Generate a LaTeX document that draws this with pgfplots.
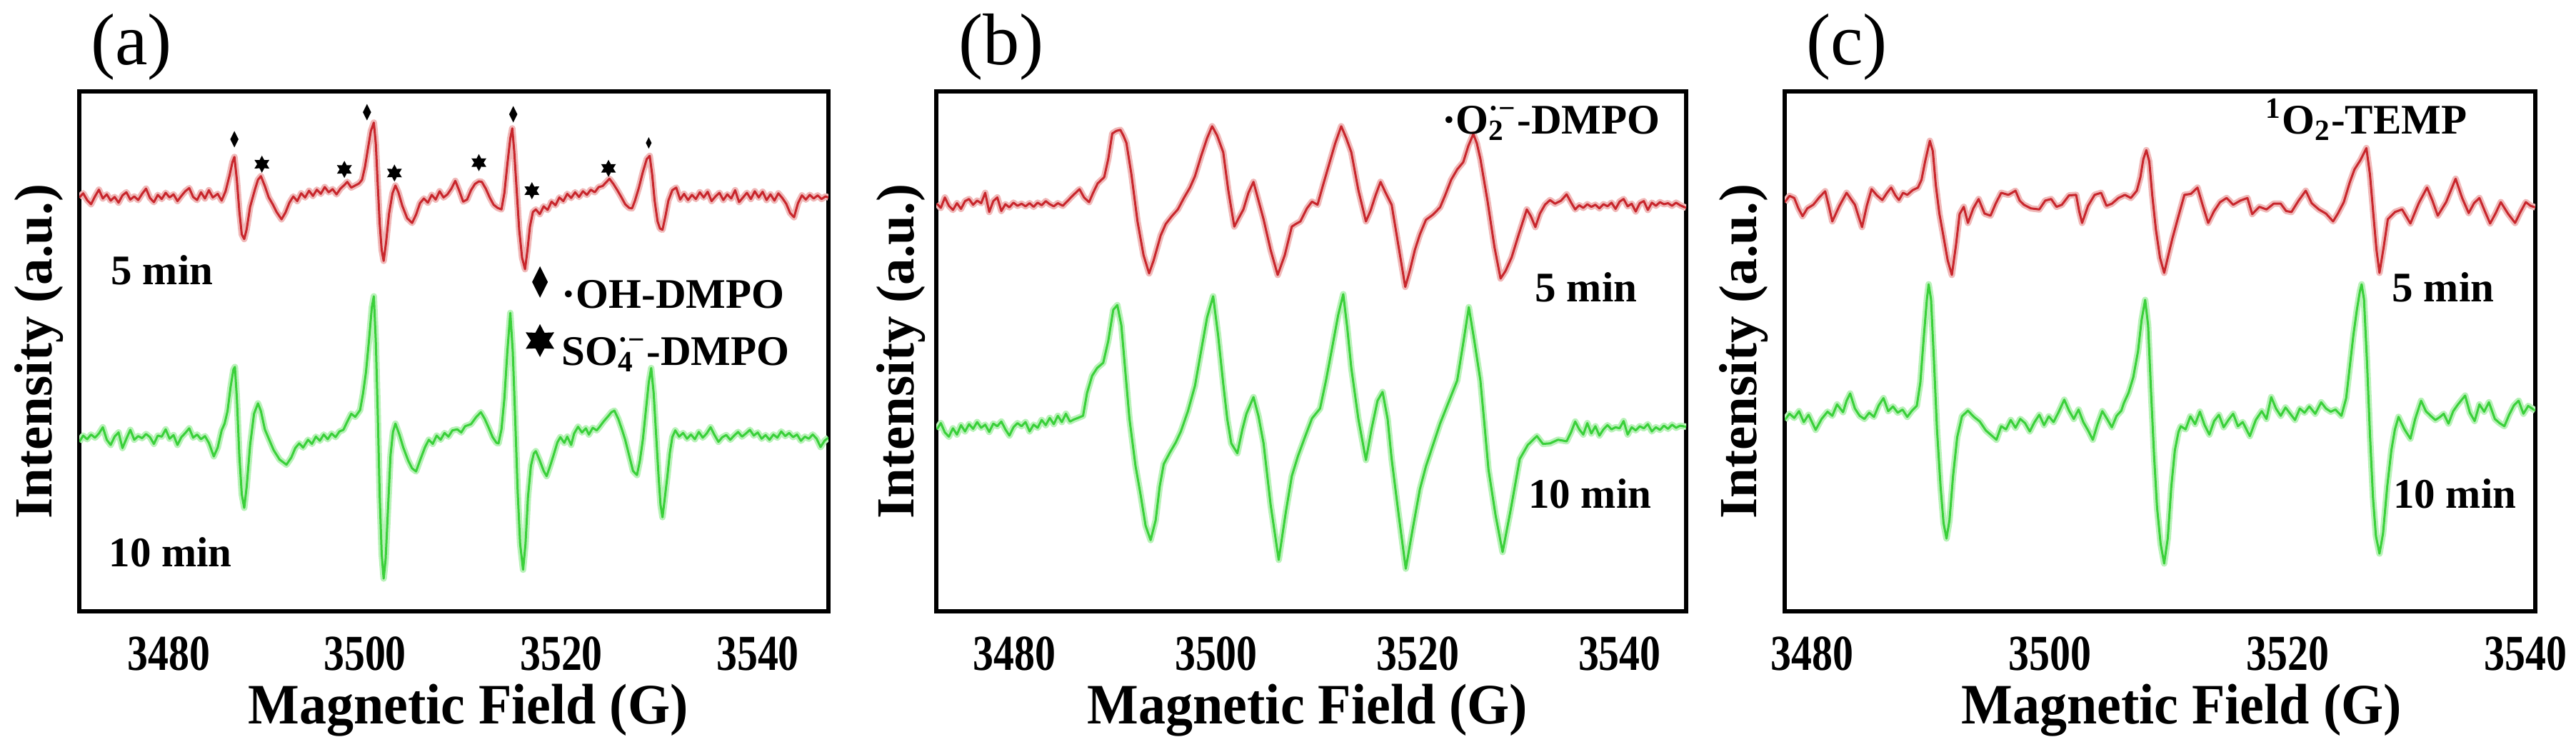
\documentclass[border=0pt]{standalone}
\usepackage{pgfplots}
\pgfplotsset{compat=1.18}
\usepackage{pgfplotstable}
\usepackage{fontspec}
\setmainfont{Liberation Serif}
\newfontfamily\tickserif{Liberation Serif}[FakeStretch=0.82]
\newfontfamily\labserif{Liberation Serif}[FakeStretch=0.95]

\definecolor{eprred}{RGB}{200,38,44}
\definecolor{eprredglow}{RGB}{240,185,185}
\definecolor{eprgreen}{RGB}{58,208,58}
\definecolor{eprgreenglow}{RGB}{185,242,185}

\newcommand\annfont{\bfseries\fontsize{11.8}{12}\selectfont}

% slim filled diamond for the .OH adduct peaks
\pgfdeclareplotmark{slimdiamond}{%
  \pgfpathmoveto{\pgfqpoint{0pt}{\pgfplotmarksize}}%
  \pgfpathlineto{\pgfqpoint{0.5\pgfplotmarksize}{0pt}}%
  \pgfpathlineto{\pgfqpoint{0pt}{-\pgfplotmarksize}}%
  \pgfpathlineto{\pgfqpoint{-0.5\pgfplotmarksize}{0pt}}%
  \pgfpathclose
  \pgfusepathqfill}
% filled six-pointed star for the sulfate adduct peaks
\pgfdeclareplotmark{sixstar}{%
  \pgfpathmoveto{\pgfpointpolar{90}{\pgfplotmarksize}}%
  \pgfpathlineto{\pgfpointpolar{120}{0.55\pgfplotmarksize}}%
  \pgfpathlineto{\pgfpointpolar{150}{\pgfplotmarksize}}%
  \pgfpathlineto{\pgfpointpolar{180}{0.55\pgfplotmarksize}}%
  \pgfpathlineto{\pgfpointpolar{210}{\pgfplotmarksize}}%
  \pgfpathlineto{\pgfpointpolar{240}{0.55\pgfplotmarksize}}%
  \pgfpathlineto{\pgfpointpolar{270}{\pgfplotmarksize}}%
  \pgfpathlineto{\pgfpointpolar{300}{0.55\pgfplotmarksize}}%
  \pgfpathlineto{\pgfpointpolar{330}{\pgfplotmarksize}}%
  \pgfpathlineto{\pgfpointpolar{0}{0.55\pgfplotmarksize}}%
  \pgfpathlineto{\pgfpointpolar{30}{\pgfplotmarksize}}%
  \pgfpathlineto{\pgfpointpolar{60}{0.55\pgfplotmarksize}}%
  \pgfpathclose
  \pgfusepathqfill}

% ---------- (a) DMPO, OH / SO4 adducts ----------
\pgfplotstableread{
x y
3470.9 79.6
3471.3 80.4
3471.7 79.1
3472.1 78.3
3472.5 79.8
3472.9 81.1
3473.3 79.4
3473.7 80.2
3474.1 79.0
3474.5 79.7
3474.9 78.6
3475.3 80.0
3475.7 80.6
3476.1 79.2
3476.5 79.8
3476.9 79.1
3477.3 80.3
3477.7 81.3
3478.1 79.5
3478.5 78.7
3478.9 80.1
3479.3 79.3
3479.7 80.5
3480.1 79.6
3480.5 80.2
3480.9 78.9
3481.3 79.9
3481.7 80.8
3482.1 81.4
3482.5 79.7
3482.9 79.1
3483.3 80.6
3483.7 79.4
3484.1 81.0
3484.5 79.6
3485.0 80.3
3485.4 79.0
3485.8 80.8
3486.2 83.8
3486.5 86.4
3486.7 87.4
3486.95 83.0
3487.2 77.0
3487.45 72.5
3487.7 71.6
3487.95 73.5
3488.3 77.8
3488.8 81.2
3489.1 83.0
3489.4 83.7
3489.8 81.8
3490.2 79.6
3490.6 78.3
3491.0 76.8
3491.5 75.4
3491.9 76.7
3492.3 78.6
3492.7 79.8
3493.1 78.9
3493.5 80.4
3493.9 79.6
3494.3 80.9
3494.7 79.9
3495.1 81.1
3495.5 80.3
3495.9 81.6
3496.3 80.6
3496.7 81.2
3497.1 80.2
3497.5 81.3
3497.9 82.0
3498.2 82.6
3498.6 81.5
3499.0 81.9
3499.4 82.3
3499.7 83.0
3500.0 85.5
3500.3 89.0
3500.6 92.4
3500.9 94.0
3501.1 90.0
3501.3 82.0
3501.5 74.5
3501.7 69.5
3501.9 67.4
3502.15 71.0
3502.45 76.5
3502.8 80.4
3503.1 81.9
3503.4 80.6
3503.8 78.0
3504.3 75.6
3504.8 74.7
3505.2 76.3
3505.6 78.5
3506.0 79.4
3506.4 78.6
3506.8 80.1
3507.2 79.2
3507.6 80.8
3508.0 79.6
3508.4 80.2
3508.8 81.3
3509.2 82.8
3509.6 80.9
3510.0 78.8
3510.4 79.2
3510.8 81.0
3511.2 82.2
3511.6 82.7
3511.9 82.6
3512.3 81.3
3512.7 79.6
3513.1 78.2
3513.5 77.6
3513.9 77.3
3514.2 80.5
3514.5 86.0
3514.8 91.0
3515.0 92.9
3515.2 88.5
3515.45 81.0
3515.7 73.5
3516.0 68.0
3516.3 65.8
3516.55 69.5
3516.8 74.0
3517.1 76.8
3517.4 77.3
3517.8 76.4
3518.2 77.9
3518.6 77.2
3519.0 78.8
3519.4 78.1
3519.8 79.6
3520.2 78.9
3520.6 80.3
3521.0 79.5
3521.4 80.6
3521.8 79.7
3522.2 80.8
3522.6 80.1
3523.0 81.1
3523.4 80.6
3523.8 81.6
3524.2 81.8
3524.6 82.6
3524.9 83.2
3525.3 82.2
3525.7 81.0
3526.1 79.7
3526.5 78.3
3526.9 77.6
3527.2 77.5
3527.5 79.0
3527.9 81.5
3528.3 84.5
3528.7 87.0
3529.0 87.6
3529.25 84.0
3529.5 79.0
3529.8 75.0
3530.05 73.6
3530.3 73.4
3530.6 76.0
3530.9 79.0
3531.3 81.0
3531.7 81.5
3532.1 79.2
3532.5 80.3
3532.9 79.1
3533.3 80.1
3533.7 79.3
3534.1 80.6
3534.5 79.6
3534.9 80.7
3535.3 78.9
3535.7 79.8
3536.1 80.5
3536.5 79.1
3536.9 80.2
3537.3 79.4
3537.7 81.0
3538.1 78.7
3538.5 79.6
3538.9 80.5
3539.3 79.3
3539.7 80.8
3540.1 79.6
3540.5 80.7
3540.9 79.1
3541.3 80.2
3541.7 79.0
3542.1 80.4
3542.5 79.5
3542.9 78.4
3543.3 76.6
3543.7 75.8
3544.1 78.5
3544.5 80.0
3544.9 79.2
3545.3 80.1
3545.7 79.4
3546.1 80.0
3546.5 79.3
3546.9 79.8
3547.2 79.6
}\redA

\pgfplotstableread{
x y
3470.9 32.6
3471.3 33.8
3471.7 33.1
3472.1 34.0
3472.5 33.4
3472.9 34.2
3473.3 35.4
3473.7 33.0
3474.1 32.0
3474.5 33.6
3474.9 34.4
3475.3 31.4
3475.7 33.2
3476.1 34.9
3476.5 33.0
3476.9 33.7
3477.3 33.3
3477.7 34.1
3478.1 33.5
3478.5 32.2
3478.9 33.8
3479.3 33.6
3479.7 35.0
3480.1 33.2
3480.5 33.9
3480.9 32.0
3481.3 33.5
3481.7 34.3
3482.1 35.2
3482.5 33.4
3482.9 34.0
3483.3 33.1
3483.7 33.7
3484.1 32.4
3484.6 29.8
3485.0 31.5
3485.4 34.8
3485.7 36.1
3486.0 38.5
3486.3 43.0
3486.6 46.5
3486.75 47.0
3486.95 41.0
3487.2 30.0
3487.45 22.5
3487.7 19.9
3487.95 24.0
3488.3 32.0
3488.7 38.0
3489.1 40.0
3489.4 38.5
3489.8 35.0
3490.2 33.2
3490.7 31.0
3491.3 29.2
3492.0 28.2
3492.5 29.6
3492.9 31.4
3493.3 32.3
3493.7 31.5
3494.2 33.0
3494.6 32.2
3495.0 33.6
3495.4 32.8
3495.8 34.0
3496.2 33.1
3496.6 34.2
3497.0 33.5
3497.4 34.6
3497.8 34.9
3498.2 36.5
3498.6 38.0
3499.0 37.4
3499.5 38.7
3499.8 41.9
3500.1 46.0
3500.4 52.0
3500.7 58.5
3500.9 60.6
3501.1 52.0
3501.3 38.0
3501.5 22.0
3501.7 11.0
3501.9 6.3
3502.1 10.0
3502.35 20.0
3502.6 30.0
3502.85 34.5
3503.1 36.1
3503.5 34.0
3503.9 31.5
3504.4 29.0
3504.8 27.5
3505.2 26.9
3505.6 29.0
3506.1 31.5
3506.5 33.0
3506.9 32.2
3507.3 33.8
3507.7 33.0
3508.1 34.3
3508.5 33.6
3508.9 34.8
3509.4 35.0
3509.8 34.4
3510.2 35.6
3510.8 36.0
3511.3 37.3
3511.8 38.3
3512.2 37.0
3512.6 35.3
3513.0 33.5
3513.4 32.4
3513.6 32.3
3513.9 35.0
3514.2 41.0
3514.5 50.0
3514.8 57.4
3515.05 50.0
3515.3 37.0
3515.55 23.0
3515.8 13.0
3516.1 8.0
3516.35 13.0
3516.6 22.0
3516.9 28.0
3517.2 30.4
3517.4 30.8
3517.8 29.0
3518.2 27.0
3518.5 26.0
3518.9 28.2
3519.2 30.0
3519.6 32.5
3519.9 33.5
3520.3 32.4
3520.6 33.6
3521.0 32.0
3521.3 34.2
3521.7 35.5
3522.1 34.4
3522.5 35.2
3522.8 34.0
3523.2 35.3
3523.6 34.8
3523.9 35.5
3524.3 36.5
3524.8 37.6
3525.1 38.3
3525.4 38.6
3525.8 37.0
3526.2 34.8
3526.5 33.0
3526.9 30.0
3527.3 27.0
3527.7 26.2
3528.0 29.0
3528.3 33.0
3528.6 38.5
3528.9 44.0
3529.15 46.8
3529.4 42.0
3529.65 34.0
3529.9 26.0
3530.1 20.5
3530.3 18.1
3530.55 22.0
3530.8 26.0
3531.05 30.5
3531.3 33.5
3531.6 34.8
3532.0 33.6
3532.4 34.3
3532.8 33.2
3533.2 34.0
3533.6 33.1
3534.0 34.5
3534.4 33.4
3534.8 34.2
3535.2 35.4
3535.6 33.9
3536.0 32.6
3536.4 33.5
3536.8 33.9
3537.2 33.0
3537.6 33.8
3538.0 34.5
3538.4 33.6
3538.8 34.2
3539.2 34.9
3539.6 33.8
3540.0 34.4
3540.4 33.2
3540.8 33.9
3541.2 33.0
3541.6 34.0
3542.0 33.4
3542.4 34.6
3542.8 33.7
3543.2 34.3
3543.6 33.5
3544.0 34.0
3544.4 32.8
3544.8 33.6
3545.2 33.2
3545.6 34.0
3546.0 33.2
3546.4 31.6
3546.8 32.8
3547.2 33.4
}\greenA

% ---------- (b) DMPO, superoxide adduct ----------
\pgfplotstableread{
x y
3472.3 78.4
3472.7 77.6
3473.1 79.6
3473.5 78.0
3473.9 77.2
3474.3 78.5
3474.7 77.4
3475.1 78.9
3475.5 79.3
3475.9 78.2
3476.3 79.0
3476.7 78.5
3477.1 80.5
3477.5 76.8
3477.9 78.9
3478.3 79.6
3478.7 77.0
3479.1 78.3
3479.5 77.7
3479.9 78.6
3480.3 78.0
3480.7 78.4
3481.1 77.9
3481.5 78.5
3481.9 77.8
3482.3 78.6
3482.7 78.1
3483.1 78.9
3483.5 78.3
3483.9 77.9
3484.3 78.5
3484.8 78.0
3485.3 79.0
3485.8 80.0
3486.45 81.2
3486.9 79.6
3487.4 78.7
3487.8 80.5
3488.25 82.3
3488.9 83.5
3489.3 87.0
3489.7 91.9
3490.1 92.4
3490.5 92.6
3490.8 91.5
3491.1 90.1
3491.6 84.0
3492.2 75.0
3492.8 68.5
3493.35 65.0
3493.8 67.5
3494.5 72.3
3495.0 74.5
3495.6 76.0
3496.2 77.3
3496.8 79.5
3497.4 81.5
3497.9 83.7
3498.5 87.5
3499.1 91.0
3499.6 93.3
3500.1 91.5
3500.7 88.3
3501.2 81.0
3501.8 74.0
3502.2 75.5
3502.7 77.3
3503.2 80.5
3503.7 82.6
3504.2 79.0
3504.7 75.4
3505.4 69.5
3506.1 64.7
3506.8 68.5
3507.5 74.0
3507.9 74.5
3508.35 75.0
3509.0 77.5
3509.5 78.8
3510.05 78.2
3510.6 82.0
3511.2 86.0
3511.8 90.0
3512.4 93.3
3512.9 91.0
3513.4 88.3
3514.1 81.0
3514.85 75.0
3515.3 77.0
3515.8 80.0
3516.3 82.6
3516.8 80.5
3517.4 78.2
3518.1 70.0
3518.75 62.4
3519.2 65.5
3519.7 69.5
3520.2 72.5
3520.8 75.3
3521.5 76.3
3522.2 77.7
3522.7 80.0
3523.3 83.0
3523.9 85.0
3524.5 86.4
3525.0 89.5
3525.5 91.8
3525.85 90.0
3526.2 87.0
3526.9 79.0
3527.6 70.0
3528.2 64.0
3528.7 65.5
3529.3 68.1
3530.0 72.5
3530.8 77.3
3531.2 76.0
3531.65 73.9
3532.1 76.5
3532.6 78.2
3533.1 79.1
3533.6 78.4
3534.2 79.0
3534.75 80.2
3535.2 78.6
3535.6 77.3
3536.0 78.1
3536.4 77.6
3536.8 78.3
3537.2 77.8
3537.6 78.2
3538.0 77.5
3538.4 78.3
3538.8 77.9
3539.2 78.6
3539.6 77.4
3540.0 78.8
3540.4 79.3
3540.8 77.9
3541.2 78.4
3541.6 76.9
3542.0 78.5
3542.4 78.9
3542.8 77.2
3543.2 78.6
3543.6 78.0
3544.0 78.7
3544.4 78.3
3544.8 78.5
3545.2 78.0
3545.6 78.6
3546.0 78.1
3546.6 77.6
}\redB

\pgfplotstableread{
x y
3472.3 35.0
3472.7 36.2
3473.1 34.4
3473.5 33.6
3473.9 35.2
3474.3 34.0
3474.7 35.8
3475.1 34.6
3475.5 36.0
3475.9 35.1
3476.3 36.4
3476.7 35.3
3477.1 35.9
3477.5 34.5
3477.9 36.1
3478.3 35.6
3478.7 36.5
3479.1 35.0
3479.5 33.8
3479.9 35.4
3480.3 36.2
3480.7 35.6
3481.1 36.4
3481.5 34.6
3481.9 35.9
3482.3 35.3
3482.7 36.8
3483.1 35.8
3483.5 37.2
3483.9 36.0
3484.3 37.6
3484.7 36.4
3485.1 38.0
3485.5 36.5
3485.9 36.9
3486.3 37.2
3486.8 37.6
3487.2 42.0
3487.7 45.3
3488.2 46.8
3488.8 47.8
3489.3 52.0
3489.8 58.0
3490.2 58.9
3490.6 55.0
3491.0 46.0
3491.4 37.1
3492.0 28.0
3492.5 22.5
3493.0 16.5
3493.5 13.7
3494.0 17.5
3494.4 24.0
3494.8 28.3
3495.4 30.5
3496.0 32.5
3496.5 34.6
3497.2 38.5
3497.9 43.4
3498.5 50.0
3499.1 56.5
3499.7 60.6
3500.2 53.0
3500.7 43.8
3501.1 37.0
3501.5 32.3
3502.1 30.4
3502.6 35.0
3503.0 38.0
3503.7 41.2
3504.2 37.5
3504.7 32.3
3505.4 20.5
3506.2 9.9
3506.9 19.0
3507.5 26.0
3508.1 29.8
3508.8 33.5
3509.5 37.1
3510.3 39.0
3510.9 44.5
3511.5 50.7
3512.1 57.0
3512.6 61.0
3513.0 54.5
3513.4 46.8
3514.1 37.0
3514.85 29.1
3515.4 35.0
3516.0 40.5
3516.5 42.2
3517.0 37.0
3517.4 29.3
3518.1 18.5
3518.8 8.2
3519.5 16.0
3520.2 23.5
3520.8 27.9
3521.5 32.0
3522.2 36.1
3523.0 40.0
3523.9 44.4
3524.5 51.6
3525.05 58.5
3525.6 52.0
3526.2 44.4
3526.6 36.0
3527.0 27.3
3527.7 18.5
3528.4 11.4
3529.2 19.5
3530.1 29.3
3530.9 32.0
3531.8 33.7
3532.4 32.2
3533.1 32.3
3533.9 33.0
3534.75 32.7
3535.2 34.5
3535.6 36.5
3536.0 35.0
3536.4 34.0
3536.8 36.2
3537.2 34.2
3537.6 35.6
3538.0 33.8
3538.4 35.0
3538.8 35.8
3539.2 35.0
3539.6 35.4
3540.0 35.2
3540.4 36.6
3540.8 34.0
3541.2 35.4
3541.6 34.8
3542.0 35.6
3542.4 35.2
3542.8 36.0
3543.2 34.6
3543.6 35.4
3544.0 34.9
3544.4 35.7
3544.8 35.1
3545.2 35.9
3545.6 35.3
3546.0 35.7
3546.6 35.5
}\greenB

% ---------- (c) TEMP, singlet oxygen adduct ----------
\pgfplotstableread{
x y
3477.7 78.7
3478.1 79.9
3478.5 79.5
3478.85 77.5
3479.2 76.0
3479.6 77.5
3480.1 78.2
3480.6 79.6
3481.1 80.8
3481.4 78.0
3481.7 75.0
3482.3 78.0
3482.9 80.5
3483.2 79.5
3483.6 78.2
3483.9 76.0
3484.2 73.9
3484.6 78.0
3485.0 81.2
3485.45 80.0
3485.9 79.1
3486.3 80.5
3486.65 81.5
3487.0 80.0
3487.3 79.1
3487.65 80.5
3488.0 80.1
3488.45 81.0
3488.9 81.5
3489.2 83.0
3489.5 86.5
3489.9 90.5
3490.15 88.5
3490.4 82.0
3490.7 76.5
3491.0 72.7
3491.4 67.5
3491.75 64.7
3492.1 70.5
3492.4 76.4
3492.75 77.8
3493.1 74.7
3493.55 77.5
3494.0 79.3
3494.5 76.5
3495.0 76.1
3495.45 78.5
3495.9 80.5
3496.5 80.1
3497.1 80.9
3497.45 79.0
3497.8 78.2
3498.4 77.5
3499.1 77.3
3499.6 79.0
3500.1 79.3
3500.55 77.8
3501.0 78.2
3501.6 80.0
3502.2 80.1
3502.45 77.0
3502.7 74.7
3503.2 78.0
3503.75 80.1
3504.3 80.5
3504.75 78.0
3505.2 78.4
3505.75 79.5
3506.3 80.1
3506.8 79.5
3507.3 80.9
3507.6 83.5
3507.85 87.0
3508.1 88.7
3508.35 86.5
3508.6 80.0
3508.9 73.5
3509.25 68.0
3509.6 65.1
3509.95 68.5
3510.3 71.8
3510.8 76.0
3511.3 80.1
3511.85 80.3
3512.4 81.5
3512.85 78.0
3513.3 74.7
3513.8 77.0
3514.3 78.7
3514.85 79.5
3515.4 78.2
3516.0 79.0
3516.6 79.5
3517.0 76.4
3517.6 77.8
3518.2 77.3
3518.8 78.4
3519.4 78.4
3519.85 77.0
3520.3 76.8
3520.9 79.0
3521.5 80.9
3522.0 78.5
3522.6 77.3
3523.2 76.5
3523.8 75.0
3524.2 76.5
3524.7 78.7
3525.2 82.5
3525.6 85.0
3526.1 86.8
3526.6 89.1
3526.9 84.0
3527.2 76.0
3527.45 69.5
3527.7 65.1
3528.05 70.0
3528.4 75.4
3529.0 76.8
3529.6 77.3
3530.3 74.6
3531.0 78.5
3531.7 81.5
3532.15 79.0
3532.6 76.1
3533.3 78.7
3534.1 83.2
3534.65 79.5
3535.2 76.6
3535.65 78.5
3536.1 79.5
3536.55 77.0
3537.0 74.6
3537.45 76.5
3537.9 78.7
3538.5 76.5
3539.1 74.7
3539.55 76.8
3540.0 78.7
3540.4 78.0
3540.8 77.7
}\redC

\pgfplotstableread{
x y
3477.7 36.8
3478.1 38.0
3478.5 37.2
3478.9 38.5
3479.3 36.4
3479.7 37.8
3480.3 34.9
3480.8 37.0
3481.3 38.4
3481.7 37.6
3482.1 39.8
3482.6 38.3
3482.9 40.5
3483.2 41.9
3483.6 39.0
3484.0 37.6
3484.4 37.0
3484.8 38.2
3485.2 37.4
3485.6 39.6
3486.0 41.0
3486.4 38.5
3486.8 39.4
3487.2 38.2
3487.6 38.8
3488.0 37.4
3488.4 38.6
3488.8 39.5
3489.1 44.0
3489.4 53.0
3489.65 60.0
3489.8 62.9
3490.0 60.0
3490.25 48.0
3490.5 35.0
3490.8 24.0
3491.05 17.0
3491.3 14.0
3491.55 17.5
3491.85 26.0
3492.2 33.5
3492.6 37.5
3493.1 38.6
3493.6 37.4
3494.1 36.5
3494.6 34.8
3495.0 34.0
3495.5 33.0
3495.9 35.6
3496.3 35.0
3496.7 36.8
3497.1 35.3
3497.5 37.0
3497.9 36.2
3498.3 34.6
3498.7 36.4
3499.1 37.8
3499.5 35.8
3499.9 37.5
3500.3 36.4
3500.7 38.2
3501.2 40.7
3501.6 38.6
3502.0 37.0
3502.4 38.8
3502.8 36.4
3503.2 34.8
3503.6 33.0
3504.0 36.0
3504.4 38.5
3504.8 37.0
3505.2 35.4
3505.6 37.6
3506.0 38.6
3506.2 40.0
3506.6 42.0
3507.0 45.0
3507.4 50.0
3507.7 56.0
3508.0 59.9
3508.25 55.0
3508.5 42.0
3508.75 30.0
3509.0 20.0
3509.3 13.0
3509.6 9.2
3509.9 14.0
3510.2 24.0
3510.5 31.0
3510.8 34.5
3511.0 35.6
3511.4 35.0
3511.8 37.5
3512.2 36.0
3512.6 38.4
3513.0 35.8
3513.4 34.0
3513.8 36.6
3514.2 37.8
3514.6 35.4
3515.0 36.8
3515.4 38.0
3515.8 35.6
3516.2 36.4
3516.8 33.7
3517.3 36.8
3517.8 38.5
3518.2 37.0
3518.6 41.2
3519.0 39.0
3519.4 37.6
3519.8 39.2
3520.2 38.0
3520.6 36.8
3521.0 39.0
3521.4 38.2
3521.8 39.4
3522.3 38.0
3522.8 40.2
3523.2 39.0
3523.6 38.4
3524.0 38.8
3524.5 37.6
3524.9 41.0
3525.2 47.0
3525.5 53.0
3525.8 58.0
3526.05 61.5
3526.2 62.9
3526.4 60.0
3526.65 48.0
3526.9 34.0
3527.15 22.0
3527.4 14.5
3527.7 11.1
3528.0 15.0
3528.35 24.0
3528.7 31.0
3529.0 35.0
3529.3 37.4
3529.8 35.0
3530.3 33.2
3530.7 37.0
3531.2 40.5
3531.6 38.5
3532.0 37.6
3532.4 36.8
3532.8 37.4
3533.1 38.0
3533.5 36.1
3533.9 38.5
3534.3 39.8
3534.9 41.5
3535.3 38.2
3535.7 36.6
3536.1 39.8
3536.5 38.4
3536.9 40.2
3537.4 37.0
3537.8 36.2
3538.2 35.6
3538.6 37.8
3539.0 39.6
3539.4 40.5
3539.8 38.0
3540.2 39.5
3540.8 38.6
}\greenC

\pgfplotsset{
  epr/.style={
    scale only axis, height=145.6pt,
    ymin=0, ymax=100, ytick=\empty,
    xtick={3480,3500,3520,3540},
    scaled x ticks=false,
    major tick length=0pt,
    xtick style={draw=none},
    axis line style={line width=1.2pt},
    xticklabel style={font=\tickserif\bfseries\fontsize{14.1}{14}\selectfont, anchor=base, inner sep=0pt, yshift=-16.4pt},
    /pgf/number format/1000 sep={},
    /pgf/number format/assume math mode=true,
    xlabel={Magnetic Field (G)},
    every axis x label/.style={at={(rel axis cs:0.5,0)}, anchor=base, yshift=-31.4pt, font=\labserif\bfseries\fontsize{16}{16}\selectfont},
    ylabel={Intensity (a.u.)},
    every axis y label/.style={at={(rel axis cs:0,0.5)}, xshift=#1, rotate=90, anchor=center, font=\bfseries\fontsize{15}{15}\selectfont},
    title style={at={(rel axis cs:0,1)}, anchor=center, yshift=6.4pt, font=\fontsize{20.5}{20.5}\selectfont},
  },
  glowred/.style={color=eprredglow, line width=1.8pt, line join=round, forget plot},
  linered/.style={color=eprred, line width=0.6pt, line join=round, forget plot},
  glowgreen/.style={color=eprgreenglow, line width=1.8pt, line join=round, forget plot},
  linegreen/.style={color=eprgreen, line width=0.6pt, line join=round, forget plot},
  % legend symbols: a single mark, raised to the middle of the text
  diamondkey/.style={legend image code/.code={\draw[##1, mark size=4.4pt] plot coordinates {(0pt,4.8pt)};}},
  starkey/.style={legend image code/.code={\draw[##1, mark size=4.6pt] plot coordinates {(0pt,4.4pt)};}},
}

\begin{document}
\begin{tikzpicture}
\useasboundingbox (0,0) rectangle (721.4pt,206.2pt);

% ---------------- panel (a) ----------------
\begin{axis}[epr=-11.2pt, at={(22.2pt,35pt)}, anchor=south west, width=209.8pt,
  xmin=3470.9, xmax=3547.2, title={(a)}, title style={xshift=14.6pt},
  xlabel style={xshift=4pt},
  legend style={at={(rel axis cs:0.595,0.665)}, anchor=north west, draw=none, fill=none,
    inner sep=0pt, font=\annfont, row sep=0pt, column sep=1.2pt,
    nodes={inner sep=1pt, text height=8.5pt, text depth=3.5pt}},
  legend cell align=left]
\addplot[glowred] table {\redA};
\addplot[linered] table {\redA};
\addplot[glowgreen] table {\greenA};
\addplot[linegreen] table {\greenA};
\addplot[only marks, mark=slimdiamond, mark size=2.3pt, black, diamondkey]
  coordinates {(3486.7,90.8) (3500.2,96.0) (3515.1,95.6)};
\addlegendentry{·OH-DMPO}
\addplot[only marks, mark=sixstar, mark size=2.4pt, black, starkey]
  coordinates {(3489.5,86.0) (3497.9,85.0) (3503.0,84.3) (3511.6,86.3) (3517.0,80.9) (3524.8,85.2)};
\addlegendentry{SO\rlap{\textsubscript{4}}\textsuperscript{·−}-DMPO}
\addplot[only marks, mark=slimdiamond, mark size=1.6pt, black, forget plot]
  coordinates {(3528.9,90.1)};
\node[anchor=base west, xshift=5.4pt, font=\annfont] at (rel axis cs:0,0.629) {5 min};
\node[anchor=base west, xshift=4.8pt, font=\annfont] at (rel axis cs:0,0.0865) {10 min};
\end{axis}

% ---------------- panel (b) ----------------
\begin{axis}[epr=-9.8pt, at={(262.2pt,35pt)}, anchor=south west, width=210pt,
  xmin=3472.25, xmax=3546.6, title={(b)}, title style={xshift=18.2pt},
  xlabel style={xshift=-1pt}]
\addplot[glowred] table {\redB};
\addplot[linered] table {\redB};
\addplot[glowgreen] table {\greenB};
\addplot[linegreen] table {\greenB};
\node[anchor=base east, xshift=-3.8pt, font=\annfont] at (rel axis cs:1,0.918) {·O\rlap{\textsubscript{2}}\textsuperscript{·−}-DMPO};
\node[anchor=base east, xshift=-10.2pt, font=\annfont] at (rel axis cs:1,0.596) {5 min};
\node[anchor=base east, xshift=-6.2pt, font=\annfont] at (rel axis cs:1,0.199) {10 min};
\end{axis}

% ---------------- panel (c) ----------------
\begin{axis}[epr=-11.5pt, at={(499.8pt,35pt)}, anchor=south west, width=210.2pt,
  xmin=3477.7, xmax=3540.8, title={(c)}, title style={xshift=17.4pt},
  xlabel style={xshift=6pt}]
\addplot[glowred] table {\redC};
\addplot[linered] table {\redC};
\addplot[glowgreen] table {\greenC};
\addplot[linegreen] table {\greenC};
\node[anchor=base east, xshift=-15.6pt, font=\annfont] at (rel axis cs:1,0.918) {\textsuperscript{1}O\textsubscript{2}-TEMP};
\node[anchor=base east, xshift=-8pt, font=\annfont] at (rel axis cs:1,0.596) {5 min};
\node[anchor=base east, xshift=-1.8pt, font=\annfont] at (rel axis cs:1,0.199) {10 min};
\end{axis}
\end{tikzpicture}
\end{document}
